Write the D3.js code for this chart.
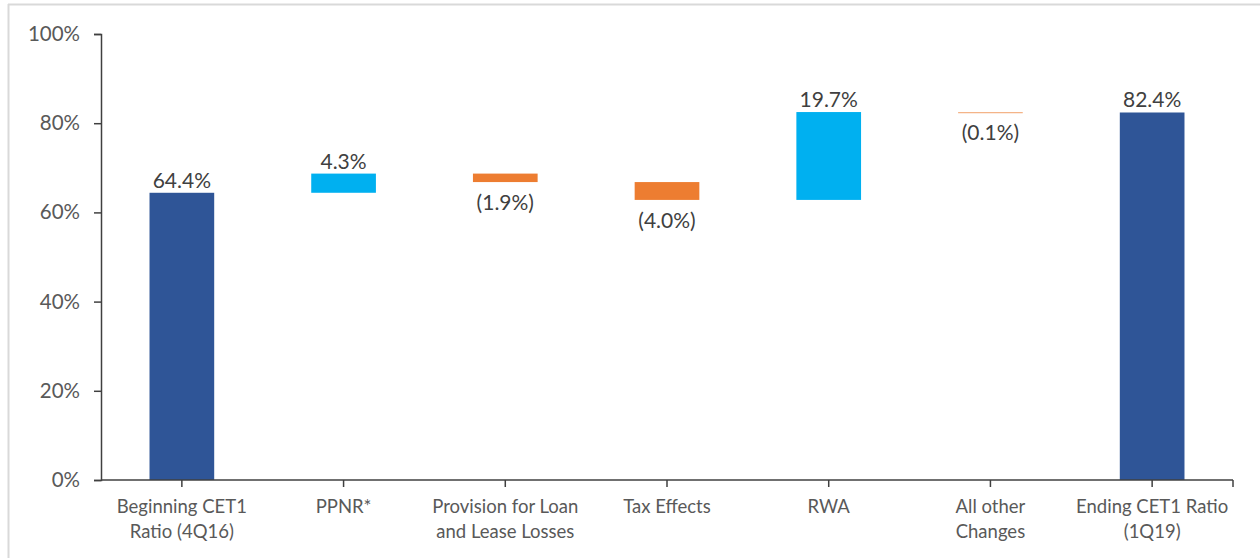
<!DOCTYPE html>
<html><head><meta charset="utf-8">
<script src="https://cdn.jsdelivr.net/npm/d3@7/dist/d3.min.js"></script>
<style>
html,body{margin:0;padding:0;background:#fff;}
svg{display:block;font-family:Lato, "Open Sans", sans-serif;}
</style></head>
<body>
<svg id="c" width="1260" height="558"></svg>
<script>
const categories = [["Beginning CET1","Ratio (4Q16)"],["PPNR*"],["Provision for Loan","and Lease Losses"],["Tax Effects"],["RWA"],["All other","Changes"],["Ending CET1 Ratio","(1Q19)"]];
const kinds = ["total","delta","delta","delta","delta","delta","total"];
const values = [64.4, 4.3, -1.9, -4.0, 19.7, -0.1, 82.4];
const yTicks = [0,20,40,60,80,100];

const colors = {total:"#2F5597", up:"#00B0F0", down:"#ED7D31"};
const svg = d3.select("#c");
const W=1260,H=558;

// frame
svg.append("line").attr("x1",8).attr("x2",W).attr("y1",4.5).attr("y2",4.5).attr("stroke","#d9d9d9").attr("stroke-width",2);
svg.append("line").attr("x1",8.5).attr("x2",8.5).attr("y1",4).attr("y2",H).attr("stroke","#d9d9d9").attr("stroke-width",2);

const x = d3.scaleBand().domain(d3.range(categories.length)).range([101,1233]).paddingInner(0.6).paddingOuter(0.3);
const y = d3.scaleLinear().domain([0,100]).range([480,34]);

// compute waterfall
let run=0;
const bars = values.map((v,i)=>{
  let lo,hi,col;
  if(kinds[i]==="total"){lo=0;hi=v;run=v;col=colors.total;}
  else {const s=run; run=+(run+v).toFixed(2); lo=Math.min(s,run); hi=Math.max(s,run); col=v>=0?colors.up:colors.down;}
  return {i,v,lo,hi,col,kind:kinds[i]};
});

// y axis
const ya = svg.append("g").attr("transform","translate(101,0)")
  .call(d3.axisLeft(y).tickValues(yTicks).tickFormat(d=>d+"%").tickSizeOuter(0).tickSize(7).tickPadding(14));
ya.select(".domain").attr("stroke","#404040").attr("stroke-width",1.5);
ya.selectAll(".tick line").attr("stroke","#404040").attr("stroke-width",1.5);
ya.selectAll(".tick text").attr("fill","#595959").style("font-size","20.5px").style("font-family","Lato");

// bars
svg.selectAll("rect.bar").data(bars).enter().append("rect")
  .attr("x",d=>x(d.i)).attr("width",x.bandwidth())
  .attr("y",d=>y(d.hi)).attr("height",d=>Math.max(y(d.lo)-y(d.hi), d.kind==="delta"&&Math.abs(d.v)<0.5?1.2:0))
  .attr("fill",d=>d.kind==="delta"&&Math.abs(d.v)<0.5?"#F4B183":d.col);

// x axis
const xa = svg.append("g").attr("transform","translate(0,480)");
xa.append("line").attr("x1",101).attr("x2",1233).attr("stroke","#404040").attr("stroke-width",1.5);
const tickXs = categories.map((c,i)=>x(i)+x.bandwidth()/2).concat([1233]);
xa.selectAll("line.t").data(tickXs).enter().append("line").attr("class","t")
  .attr("x1",d=>d).attr("x2",d=>d).attr("y1",0).attr("y2",7).attr("stroke","#404040").attr("stroke-width",1.5);
const cl = xa.selectAll("text.cat").data(categories).enter().append("text").attr("class","cat")
  .attr("text-anchor","middle").attr("fill","#595959").style("font-size","18.5px");
cl.each(function(lines,i){
  const t=d3.select(this);
  lines.forEach((ln,k)=>t.append("tspan").attr("x",x(i)+x.bandwidth()/2).attr("y",33+k*25).text(ln));
});

// value labels
const fmt = v => v<0 ? "("+Math.abs(v).toFixed(1)+"%)" : v.toFixed(1)+"%";
svg.selectAll("text.val").data(bars).enter().append("text")
  .attr("text-anchor","middle").attr("fill","#404040").style("font-size","21px")
  .attr("x",d=>x(d.i)+x.bandwidth()/2)
  .attr("y",d=> d.v<0 ? y(d.lo)+28 : y(d.hi)-5)
  .text(d=>fmt(d.v));
</script>
</body></html>
